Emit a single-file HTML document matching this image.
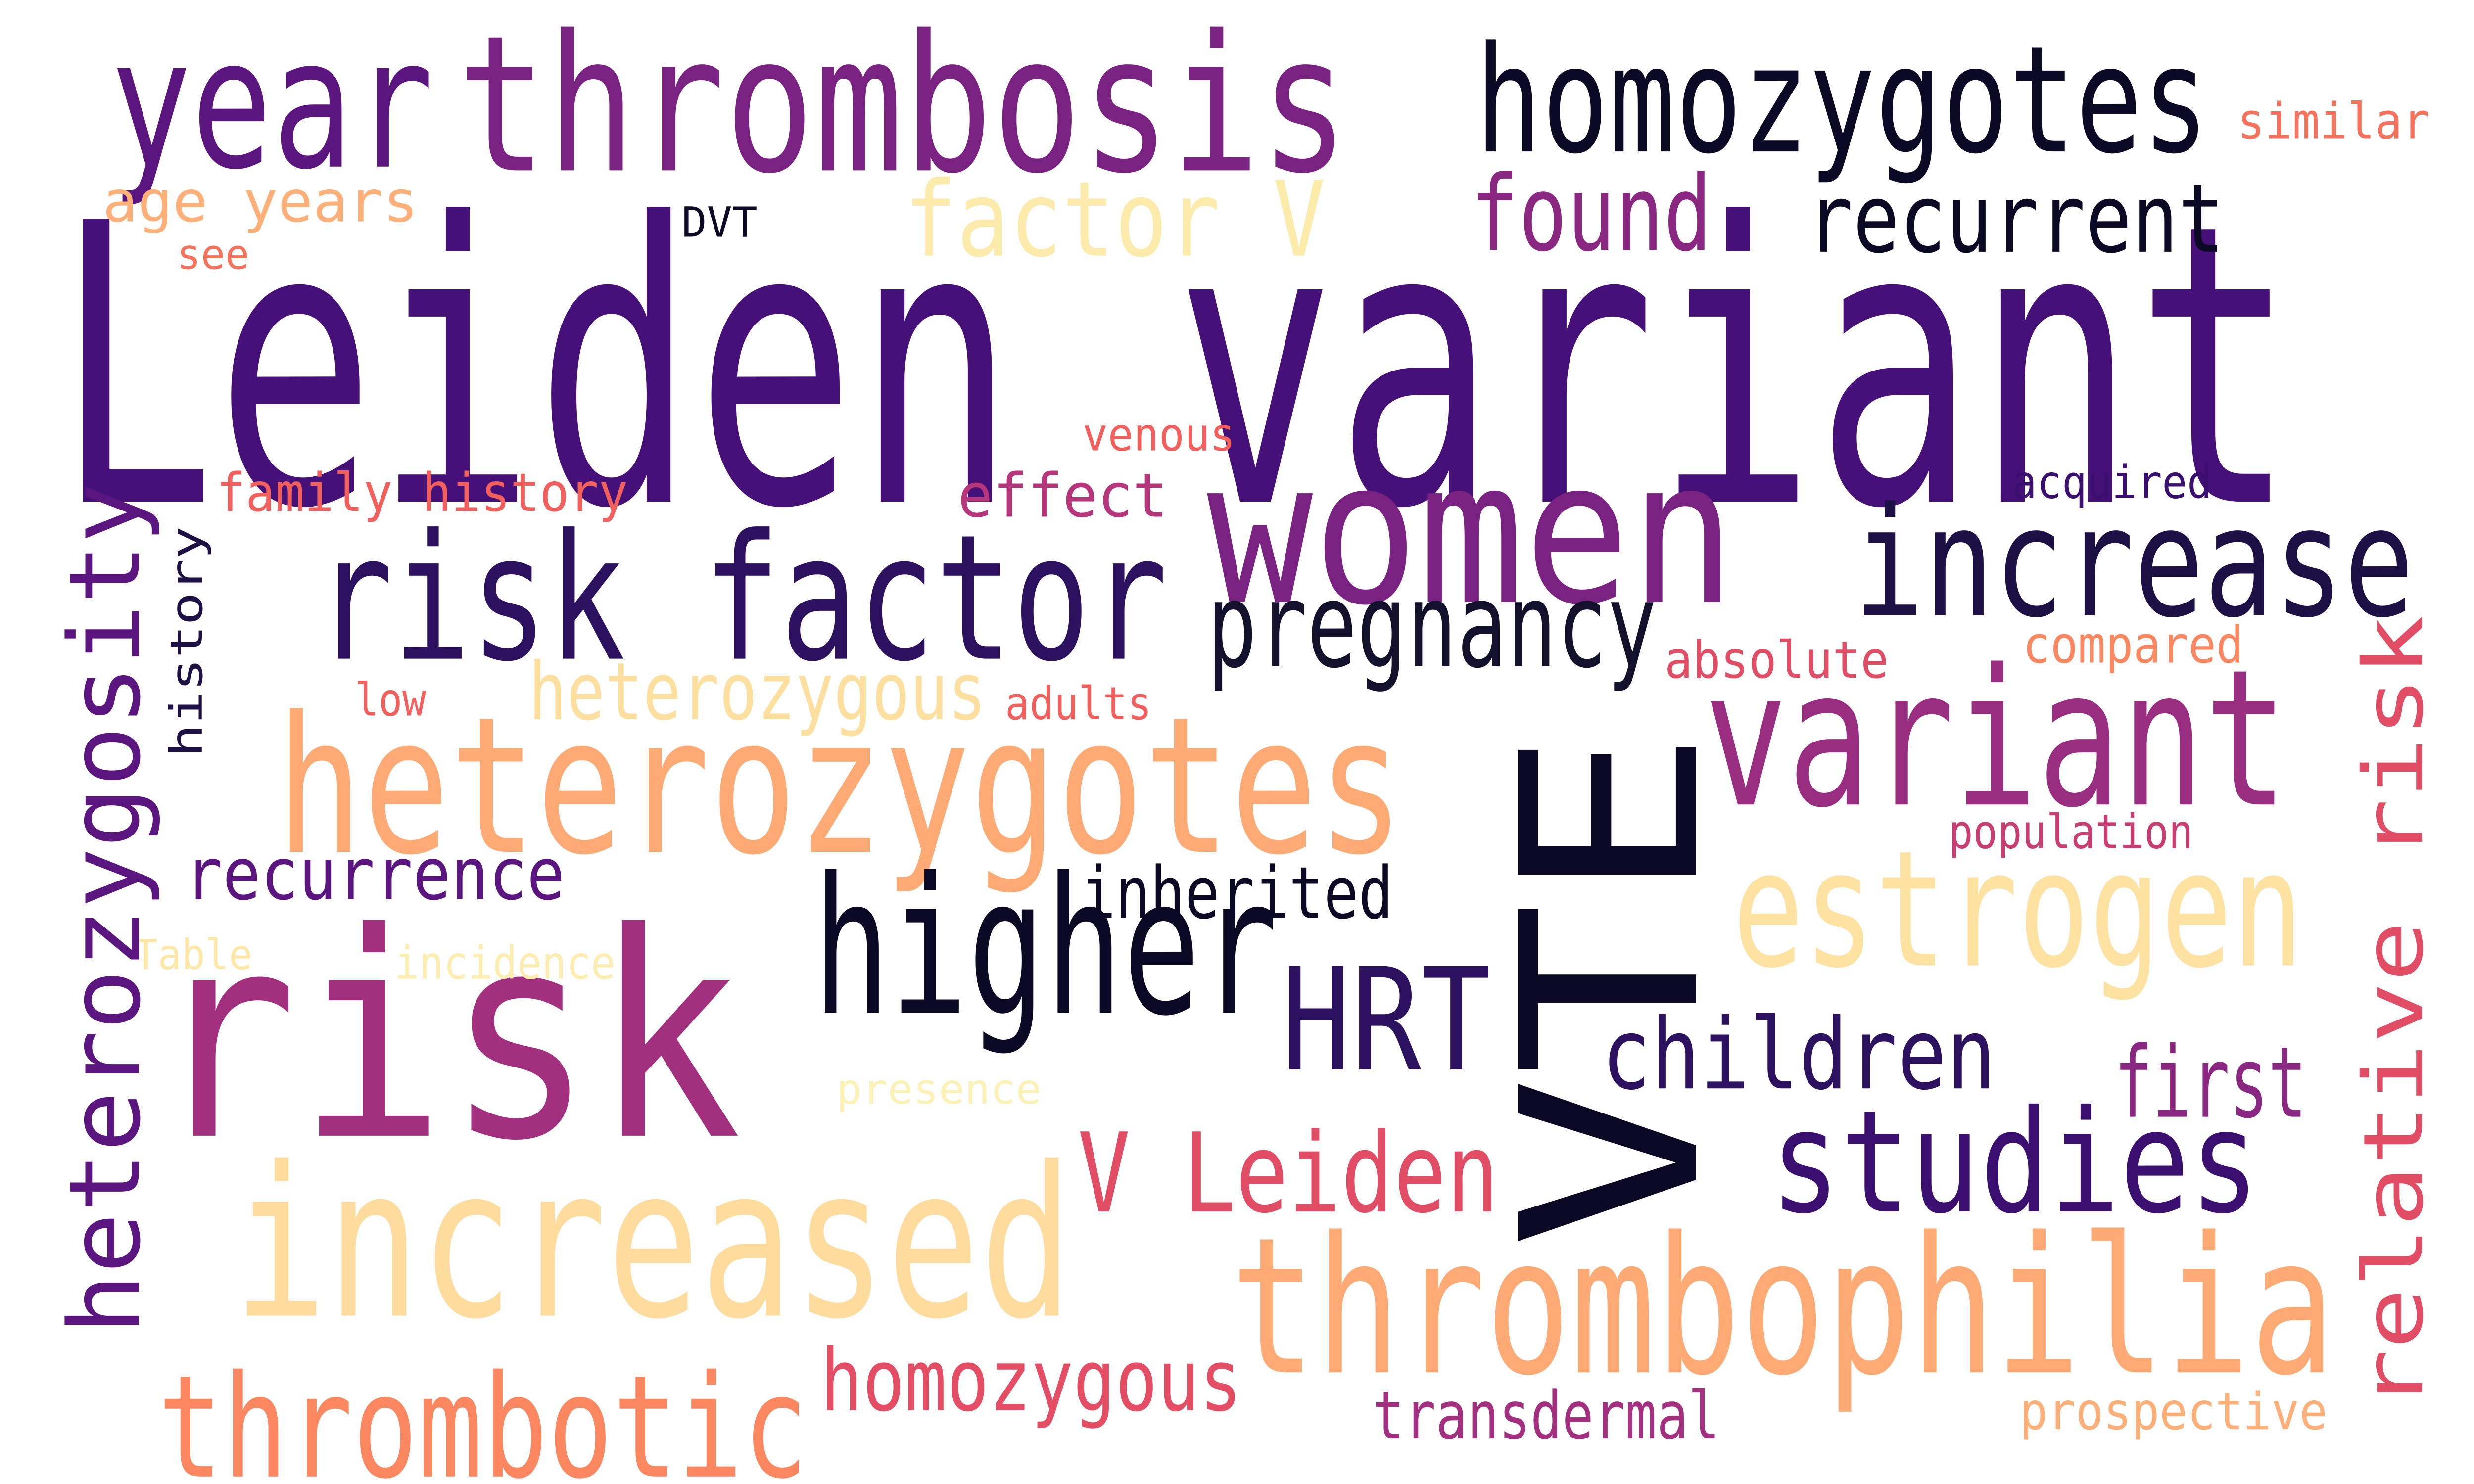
<!DOCTYPE html>
<html><head><meta charset="utf-8"><style>
html,body{margin:0;padding:0;background:#fff;width:100%;height:100%;overflow:hidden}
svg{display:block;position:fixed;left:0;top:0;width:100vw;height:100vh}
text{font-family:"DejaVu Sans Mono","Liberation Mono",monospace}
</style></head><body>
<svg viewBox="0 0 1568 784" preserveAspectRatio="none" xmlns="http://www.w3.org/2000/svg">
<rect width="1568" height="784" fill="#fff"/>
<g id="words"></g>
</svg>
<script>
const words = ["Leiden variant","risk","thrombosis","year","homozygotes","similar","age years","see","DVT","factor V","found","recurrent","venous","acquired","women","increase","family history","effect","risk factor","pregnancy","low","heterozygous","adults","absolute","compared","heterozygotes","variant","population","recurrence","inherited","estrogen","Table","incidence","higher","HRT","children","first","presence","studies","V Leiden","increased","thrombophilia","thrombotic","homozygous","transdermal","prospective","VTE","heterozygosity","history","relative risk"];
const sizes = [205,150,100,95,78,26,30,22,22,55,55,50,24,24,105,80,28,32,92,62,24,42,24,27,27,100,100,25,38,38,85,22,24,100,75,52,52,22,75,58,110,100,75,45,35,27,155,62,28,52];
const colors = ["#451077","#a3307e","#7a2282","#5a167e","#0b0924","#f7725c","#feb078","#f7725c","#0b0924","#fcebaa","#8a2881","#0b0924","#f1605d","#3b0f70","#7a2282","#1c1044","#f1605d","#b5367a","#2c115f","#13102b","#f1605d","#fde0a0","#f1605d","#e24d66","#fb8761","#feaa74","#992d80","#c83e73","#5a167e","#0b0924","#fde2a1","#fde8a8","#fdedb0","#0b0924","#2c115f","#2c115f","#8a2881","#fcf2b5","#3b0f70","#e24d66","#fddc9e","#feaa74","#fb8761","#e34e65","#a3307e","#feb078","#0a0822","#5a167e","#1c1044","#e24d66"];
const px = [35,95,290,70,935,1418,65,112,432,573,932,1145,686,1275,765,1175,137,607,200,765,225,335,637,1055,1282,175,1080,1235,117,685,1098,85,250,515,812,1015,1340,530,1122,683,148,780,100,520,870,1280,1075,88,128,1535];
const py = [265,600,90,88,80,73,117,142,125,135,132,133,238,263,318,325,270,273,348,352,378,380,380,358,350,450,425,448,475,485,510,512,517,535,565,575,590,583,640,640,695,725,780,745,760,755,660,705,400,745];
const lens = [1420,375,565,205,465,122,200,46,48,267,153,265,97,127,335,355,261,133,540,285,45,290,93,142,140,715,370,155,241,198,362,75,140,295,133,250,122,130,310,267,532,700,412,267,220,195,275,450,122,420];
const rot = [0,0,0,0,0,0,0,0,0,0,0,0,0,0,0,0,0,0,0,0,0,0,0,0,0,0,0,0,0,0,0,0,0,0,0,0,0,0,0,0,0,0,0,0,0,0,1,1,1,1];
const g = document.getElementById('words');
words.forEach((w,i)=>{
  const t = document.createElementNS('http://www.w3.org/2000/svg','text');
  
  
  t.setAttribute('x', 0);
  t.setAttribute('y', 0);
  t.setAttribute('font-size', sizes[i]);
  t.setAttribute('fill', colors[i]);
  t.textContent = w;
  g.appendChild(t);
  let nat = t.getComputedTextLength();
  if (!nat) nat = w.length * 0.602 * sizes[i];
  const sx = lens[i] / nat;
  t.setAttribute('transform', 'translate(' + px[i] + ',' + py[i] + ')' + (rot[i] ? ' rotate(-90)' : '') + ' scale(' + sx.toFixed(4) + ',1)');
});
</script>
</body></html>
